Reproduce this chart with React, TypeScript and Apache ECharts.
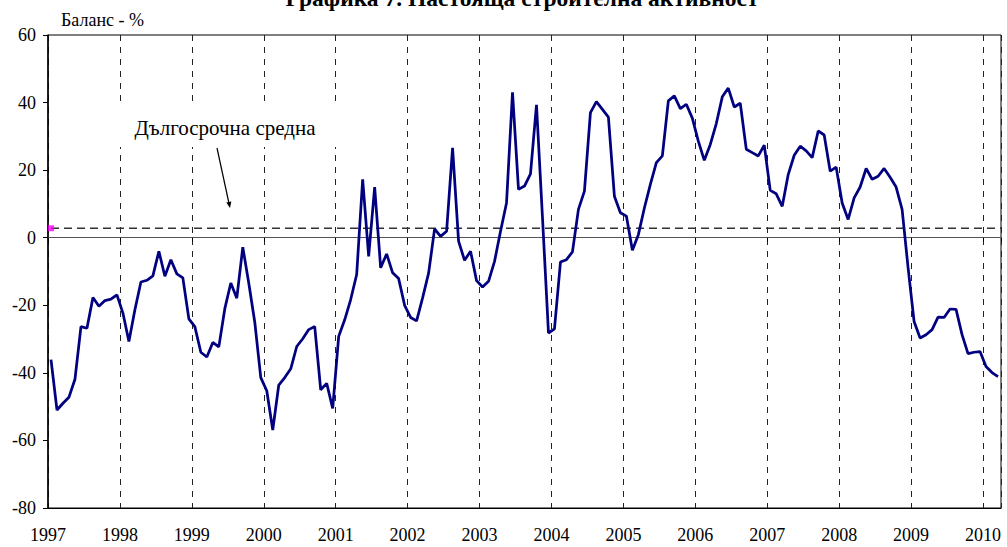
import React, { useEffect, useRef } from "react";
import * as echarts from "echarts";

const startYear = 1997;
const endYear = 2010;
const monthsShown = 159;

const titleText = "Графика 7. Настояща строителна активност";
const yAxisName = "Баланс - %";
const averageLabel = "Дългосрочна средна";
const longTermAverage = 2.8;

const v1997 = [-36.1, -51.0, -49.0, -47.2, -41.9, -26.3, -26.8, -17.7, -20.3, -18.6, -18.2, -16.9];
const v1998 = [-22.3, -30.7, -21.3, -13.1, -12.6, -11.3, -4.0, -11.4, -6.5, -10.7, -11.9, -24.0];
const v1999 = [-26.3, -33.9, -35.3, -31.0, -32.3, -21.0, -13.4, -17.9, -2.8, -13.5, -25.0, -41.4];
const v2000 = [-45.3, -56.9, -43.6, -41.4, -38.8, -32.2, -29.9, -27.2, -26.3, -45.0, -43.1, -50.5];
const v2001 = [-29.2, -24.3, -18.3, -10.9, 17.3, -5.5, 15.0, -8.9, -4.8, -10.4, -12.1, -20.0];
const v2002 = [-23.6, -24.6, -17.8, -10.5, 2.6, 0.4, 1.9, 26.6, -1.0, -6.7, -4.0, -12.7];
const v2003 = [-14.6, -12.9, -7.0, 1.9, 10.3, 43.0, 14.3, 15.3, 18.9, 39.3, 6.0, -28.2];
const v2004 = [-27.0, -7.2, -6.5, -4.2, 8.4, 13.8, 37.0, 40.3, 38.0, 35.7, 12.3, 7.4];
const v2005 = [6.4, -3.7, 0.9, 8.8, 15.8, 22.2, 24.2, 40.5, 42.0, 38.2, 39.5, 35.4];
const v2006 = [28.6, 22.9, 27.6, 33.8, 41.7, 44.3, 38.7, 39.8, 26.2, 25.2, 24.2, 27.4];
const v2007 = [14.0, 13.0, 9.3, 18.7, 24.4, 27.1, 25.7, 23.7, 31.6, 30.4, 19.7, 20.9];
const v2008 = [10.3, 5.4, 11.8, 15.0, 20.5, 17.3, 18.2, 20.5, 17.9, 15.0, 8.4, -8.9];
const v2009 = [-24.8, -29.7, -28.7, -27.2, -23.5, -23.6, -21.1, -21.2, -28.7, -34.3, -33.9, -33.7];
const v2010 = [-38.1, -39.9, -41.1];

const balance = [
  ...v1997, ...v1998, ...v1999, ...v2000, ...v2001, ...v2002, ...v2003,
  ...v2004, ...v2005, ...v2006, ...v2007, ...v2008, ...v2009, ...v2010,
];

const serif = "Liberation Serif";

export default function App() {
  const ref = useRef<HTMLDivElement>(null);

  useEffect(() => {
    if (!ref.current) return;
    const chart = echarts.init(ref.current, null, { renderer: "svg" });

    const xLabel = (v: number) =>
      v % 12 === 0 && startYear + v / 12 <= endYear ? String(startYear + v / 12) : "";

    const option: any = {
      animation: false,
      backgroundColor: "#ffffff",
      grid: {
        left: 48,
        right: 6,
        top: 35,
        bottom: 39,
        show: true,
        borderColor: "#000",
        borderWidth: 1,
        backgroundColor: "transparent",
      },
      xAxis: [
        {
          type: "value",
          min: 0,
          max: monthsShown,
          interval: 12,
          position: "bottom",
          axisLine: { show: true, onZero: false, lineStyle: { color: "#000", width: 1 } },
          axisTick: { show: false },
          axisLabel: {
            formatter: xLabel,
            fontFamily: serif,
            fontSize: 18,
            color: "#000",
            margin: 18,
          },
          splitLine: { show: true, lineStyle: { color: "#222", width: 1, type: [6, 6] } },
        },
        {
          type: "value",
          min: 0,
          max: monthsShown,
          interval: 12,
          position: "bottom",
          axisLine: { show: true, onZero: true, lineStyle: { color: "#555", width: 1 } },
          axisTick: { show: true, length: 4, lineStyle: { color: "#000" } },
          axisLabel: { show: false },
          splitLine: { show: false },
        },
      ],
      yAxis: {
        type: "value",
        min: -80,
        max: 60,
        interval: 20,
        axisLine: { show: true, lineStyle: { color: "#000", width: 1.5 } },
        axisTick: { show: true, length: 5, lineStyle: { color: "#000" } },
        axisLabel: { fontFamily: serif, fontSize: 18, color: "#000", margin: 12 },
        splitLine: { show: false },
      },
      series: [
        {
          type: "line",
          name: "average",
          xAxisIndex: 0,
          data: [
            [0.5, longTermAverage],
            [monthsShown, longTermAverage],
          ],
          symbol: "none",
          lineStyle: { color: "#333", width: 1.6, type: [8, 5] },
          z: 3,
        },
        {
          type: "line",
          name: "balance",
          xAxisIndex: 0,
          data: balance.map((v, i) => [i + 0.5, v]),
          symbol: "none",
          lineStyle: { color: "#000080", width: 2.75 },
          z: 5,
        },
        {
          type: "scatter",
          xAxisIndex: 0,
          data: [[0.5, longTermAverage]],
          symbol: "rect",
          symbolSize: 6,
          itemStyle: { color: "#FF00FF" },
          z: 6,
        },
      ],
      graphic: [
        {
          type: "text",
          x: 522,
          y: -2,
          style: {
            text: titleText,
            fontFamily: serif,
            fontSize: 23.5,
            fontWeight: "bold",
            fill: "#000",
            align: "center",
            verticalAlign: "middle",
            textAlign: "center",
            textVerticalAlign: "middle",
          },
        },
        {
          type: "text",
          x: 61,
          y: 20,
          style: {
            text: yAxisName,
            fontFamily: serif,
            fontSize: 18,
            fill: "#000",
            align: "left",
            verticalAlign: "middle",
            textAlign: "left",
            textVerticalAlign: "middle",
          },
        },
        {
          type: "rect",
          shape: { x: 118, y: 103, width: 220, height: 44 },
          style: { fill: "#fff" },
          z: 10,
        },
        {
          type: "text",
          x: 225,
          y: 128,
          z: 11,
          style: {
            text: averageLabel,
            fontFamily: serif,
            fontSize: 21,
            fill: "#000",
            align: "center",
            verticalAlign: "middle",
            textAlign: "center",
            textVerticalAlign: "middle",
          },
        },
        {
          type: "line",
          shape: { x1: 217, y1: 148, x2: 228.8, y2: 202.5 },
          style: { stroke: "#000", lineWidth: 1.2 },
          z: 11,
        },
        {
          type: "polygon",
          shape: { points: [[230, 208], [226.3, 202.4], [231.3, 201.4]] },
          style: { fill: "#000" },
          z: 11,
        },
      ],
    };

    chart.setOption(option);
    return () => chart.dispose();
  }, []);

  return (
    <div
      ref={ref}
      style={{ position: "fixed", left: 0, top: 0, width: 1007, height: 547, background: "#fff" }}
    />
  );
}
